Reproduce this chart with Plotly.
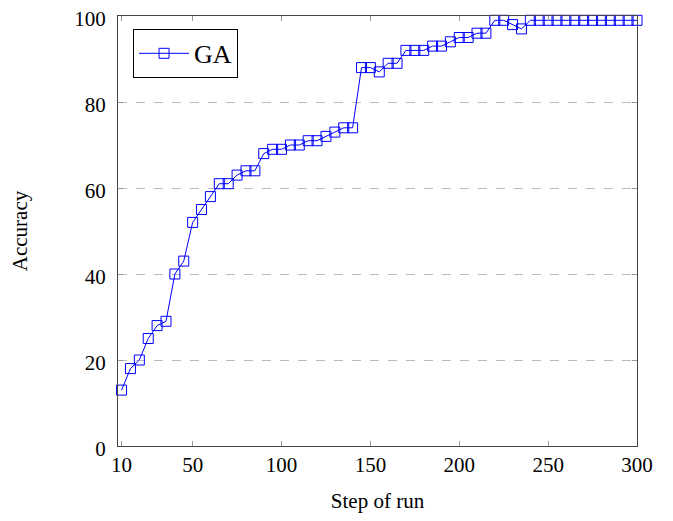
import plotly.graph_objects as go

steps = list(range(10, 301, 5))
accuracy = [13, 18, 20, 25, 28, 29, 40, 43, 52, 55,
            58, 61, 61, 63, 64, 64, 68, 69, 69, 70,
            70, 71, 71, 72, 73, 74, 74, 88, 88, 87,
            89, 89, 92, 92, 92, 93, 93, 94, 95, 95,
            96, 96, 99, 99, 98, 97, 99, 99, 99, 99,
            99, 99, 99, 99, 99, 99, 99, 99, 99]
x_ticks = [10, 50, 100, 150, 200, 250, 300]
y_ticks = [0, 20, 40, 60, 80, 100]
series_name = "GA"

FONT = "Liberation Serif"
BLUE = "#0000ff"

fig = go.Figure()
fig.add_trace(go.Scatter(
    x=steps, y=accuracy, name=series_name, mode="lines+markers",
    line=dict(color=BLUE, width=1),
    marker=dict(symbol="square-open", size=10, color=BLUE, line=dict(width=1, color=BLUE)),
    cliponaxis=False,
))

axis_common = dict(
    showline=True, linecolor="#444", linewidth=1, mirror="ticks",
    ticks="inside", ticklen=5, tickcolor="#999", tickwidth=1,
    zeroline=False, automargin=False, ticklabeloverflow="allow",
)

fig.update_xaxes(
    range=[8, 300], tickvals=x_ticks, ticktext=[str(v) for v in x_ticks],
    showgrid=False,
    tickfont=dict(family=FONT, size=21, color="black"),
    title=dict(text="Step of run", font=dict(family=FONT, size=21, color="black"), standoff=34),
    **axis_common,
)
fig.update_yaxes(
    range=[0, 100], tickvals=y_ticks,
    showgrid=True, gridcolor="#bbbbbb", griddash="dash", gridwidth=1,
    tickfont=dict(family=FONT, size=21, color="black"),
    ticklabelshift=3, ticklabelstandoff=7,
    title=dict(text="Accuracy", font=dict(family=FONT, size=21, color="black"), standoff=50),
    **axis_common,
)

# page body has an 8px margin; figure sized so plot area lands at x 118-637, y 16-446
fig.update_layout(
    width=657, height=505,
    margin=dict(l=110, r=28, t=8, b=67),
    paper_bgcolor="white", plot_bgcolor="white",
    font=dict(family=FONT, color="black"),
    showlegend=True,
    legend=dict(
        x=0.029, y=0.97, xanchor="left", yanchor="top",
        bordercolor="black", borderwidth=1, bgcolor="white",
        itemwidth=50,
        font=dict(family=FONT, size=26, color="black"),
    ),
)

fig.write_html("out.html")
